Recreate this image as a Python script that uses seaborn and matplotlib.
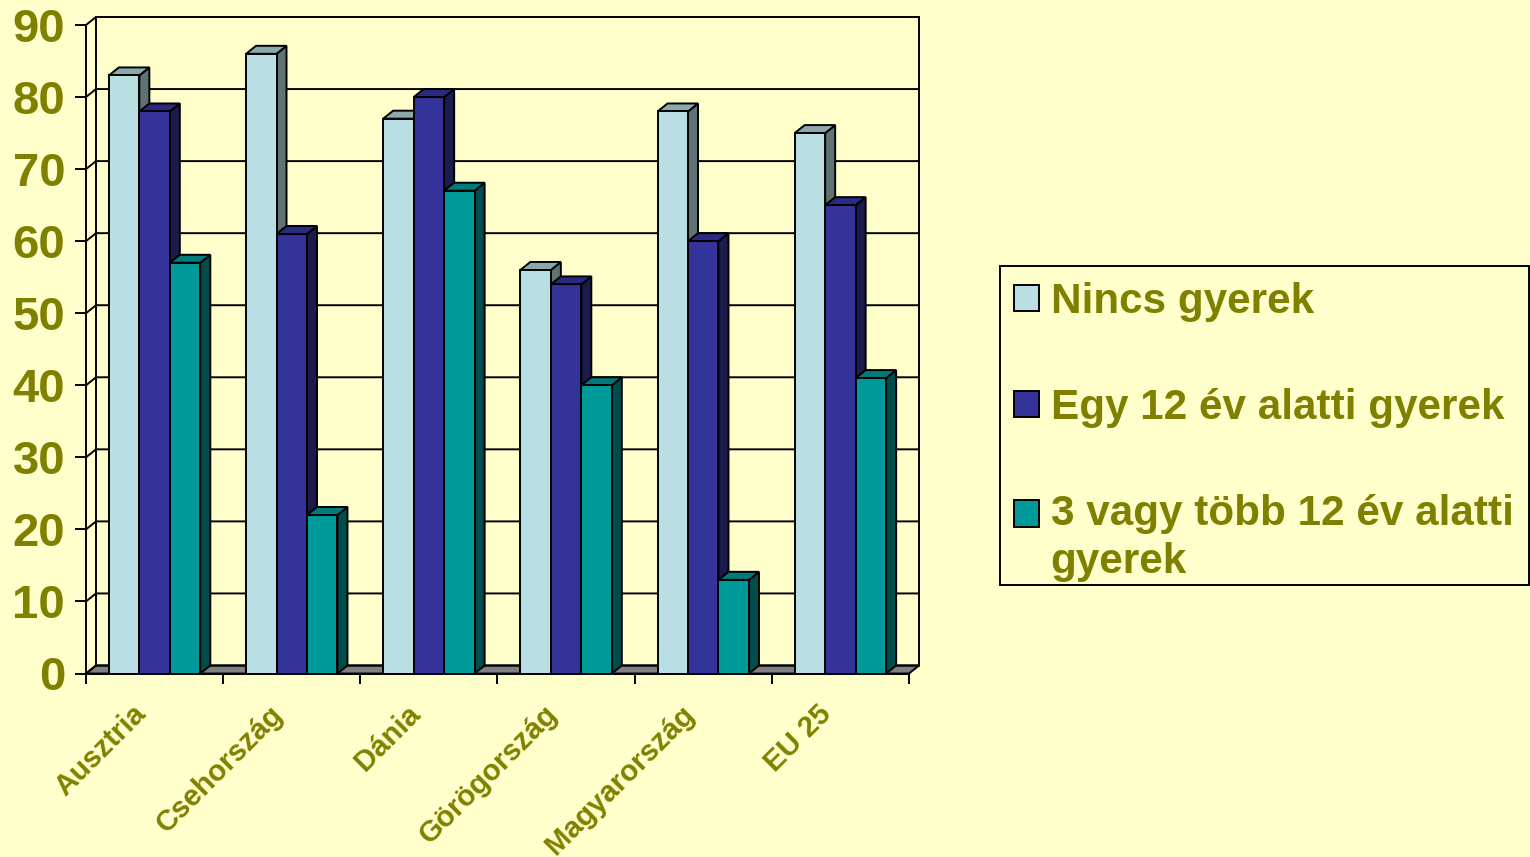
import matplotlib
matplotlib.use("Agg")
import matplotlib.pyplot as plt
from matplotlib.patches import Polygon, Rectangle
from matplotlib.transforms import Affine2D
import pandas as pd
import seaborn as sns

categories = ["Ausztria", "Csehország", "Dánia", "Görögország", "Magyarország", "EU 25"]
series_names = ["Nincs gyerek", "Egy 12 év alatti gyerek", "3 vagy több 12 év alatti\ngyerek"]
nincs = [83, 86, 77, 56, 78, 75]
egy = [78, 61, 80, 54, 60, 65]
harom = [57, 22, 67, 40, 13, 41]
front_colors = ["#B9DFE4", "#333399", "#009999"]
top_colors = ["#8CA8AC", "#2A2A80", "#007A7A"]
side_colors = ["#5F7274", "#1B1B4D", "#004D4D"]
yticks = list(range(0, 100, 10))

BG = "#FFFFCC"
TXT = "#808000"
LW = 1.4
W, H = 1530, 857
L, R, B, T = 86, 909, 673.5, 25
DX_PX, DY_PX = 10, 8

sns.set_theme(style="white")
plt.rcParams["font.family"] = ["Liberation Sans", "DejaVu Sans"]
plt.rcParams["font.weight"] = "bold"

df = pd.DataFrame({
    "cat": categories * 3,
    "series": [s for s in series_names for _ in categories],
    "value": nincs + egy + harom,
})

fig = plt.figure(figsize=(W / 100, H / 100), dpi=100, facecolor=BG)
ax = fig.add_axes([L / W, 1 - B / H, (R - L) / W, (B - T) / H], facecolor="none")

sns.barplot(data=df, x="cat", y="value", hue="series", hue_order=series_names,
            palette=front_colors, width=2 / 3, gap=0, saturation=1,
            edgecolor="black", linewidth=LW, ax=ax, zorder=3)
ax.set_xlim(-0.5, 5.5)
ax.set_ylim(0, 90)

dx = DX_PX * 6 / (R - L)
dy = DY_PX * 90 / (B - T)

# Back wall, grid and floor
x0, x1 = -0.5, 5.5
ax.add_patch(Polygon([(x0, 0), (x1, 0), (x1 + dx, dy), (x0 + dx, dy)], closed=True,
                     facecolor="#808080", edgecolor="black", lw=LW, clip_on=False, zorder=1))
for v in yticks:
    ax.plot([x0, x0 + dx, x1 + dx], [v, v + dy, v + dy], color="black", lw=LW,
            clip_on=False, zorder=1, solid_joinstyle="miter")
ax.plot([x0 + dx, x0 + dx], [dy, 90 + dy], color="black", lw=LW, clip_on=False, zorder=1)
ax.plot([x1 + dx, x1 + dx], [dy, 90 + dy], color="black", lw=LW, clip_on=False, zorder=1)

# Extruded faces from the seaborn bars
bars = []
for i, cont in enumerate(ax.containers):
    for rect in cont:
        bars.append((rect, i))
bars.sort(key=lambda b: b[0].get_x())
for k, (rect, i) in enumerate(bars):
    z = 3 + k * 0.01
    xa, w, h = rect.get_x(), rect.get_width(), rect.get_height()
    ax.add_patch(Polygon([(xa + w, 0), (xa + w + dx, dy), (xa + w + dx, h + dy), (xa + w, h)],
                         closed=True, facecolor=side_colors[i], edgecolor="black", lw=LW,
                         clip_on=False, zorder=z))
    ax.add_patch(Polygon([(xa, h), (xa + dx, h + dy), (xa + w + dx, h + dy), (xa + w, h)],
                         closed=True, facecolor=top_colors[i], edgecolor="black", lw=LW,
                         clip_on=False, zorder=z))
    rect.set_zorder(z + 0.001)

# Axes
for s in ["top", "right"]:
    ax.spines[s].set_visible(False)
for s in ["left", "bottom"]:
    ax.spines[s].set_linewidth(LW)
    ax.spines[s].set_color("black")
    ax.spines[s].set_zorder(20)
ax.set_xlabel("")
ax.set_ylabel("")
ax.set_yticks(yticks)
ax.tick_params(axis="y", direction="out", length=8, width=LW, color="black",
               labelsize=34, labelcolor=TXT, pad=7, left=True)
ax.set_xticks(range(len(categories)))
ax.set_xticklabels(categories, rotation=45, ha="right", rotation_mode="anchor",
                   fontsize=21.2, color=TXT, fontweight="bold")
ax.set_xticks([x0 + j for j in range(7)], minor=True)
ax.tick_params(axis="x", which="major", length=0, pad=19)
ax.tick_params(axis="x", which="minor", direction="out", length=7.5, width=LW,
               color="black", bottom=True)
for lab in ax.get_xticklabels():
    lab.set_transform(lab.get_transform() + Affine2D().translate(-23, 0))
for lab in ax.get_yticklabels():
    lab.set_fontweight("bold")

# Legend box and entries
fig.add_artist(Rectangle((1000 / W, 1 - 585 / H), 529 / W, 319 / H, transform=fig.transFigure,
                         facecolor=BG, edgecolor="black", lw=LW, zorder=-1))
handles, labels = ax.get_legend_handles_labels()
leg = ax.legend(handles, labels, loc="upper left",
                bbox_to_anchor=(1000 / W, 1 - 268 / H), bbox_transform=fig.transFigure,
                fontsize=30.4, frameon=False, borderpad=0.33, labelspacing=1.565,
                handlelength=0.59, handleheight=0.59, handletextpad=0.28, borderaxespad=0)
for t in leg.get_texts():
    t.set_color(TXT)
    t.set_fontweight("bold")
    t.set_linespacing(1.25)
for h in leg.legend_handles:
    h.set_linewidth(LW)
# The wrapped entry keeps its swatch beside the first line
last = leg.legend_handles[-1]
last.set_y(last.get_y() + 25 / (100 / 72))

fig.savefig("out.png", dpi=100, facecolor=BG)
